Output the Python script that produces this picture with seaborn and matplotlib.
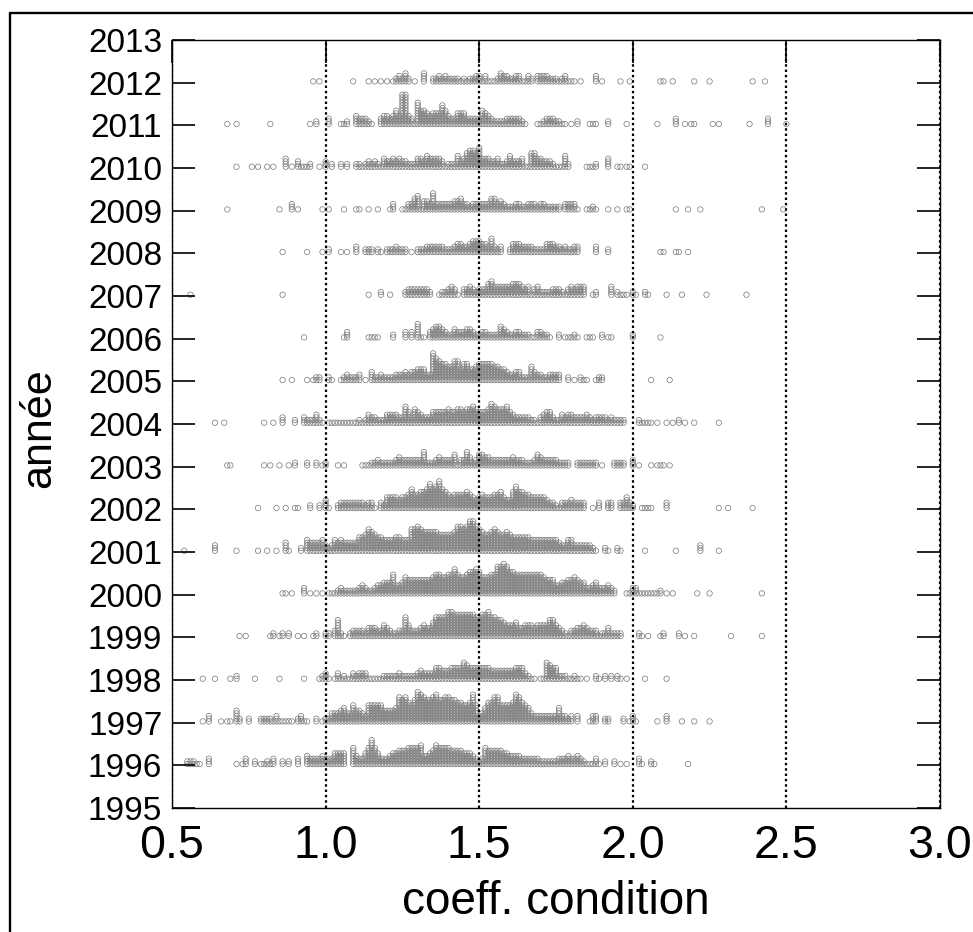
import matplotlib
matplotlib.use('Agg')
import matplotlib.pyplot as plt
from matplotlib.lines import Line2D
import pandas as pd
import seaborn as sns

years = list(range(1996, 2013))
year_ticks = list(range(1995, 2014))
coeff_ticks = [0.5, 1.0, 1.5, 2.0, 2.5, 3.0]
coeff_labels = ['0.5', '1.0', '1.5', '2.0', '2.5', '3.0']

# number of fish stacked per 0.01 bin of the coefficient, one row = 0.10
first_bin = [0.5, 0.5, 0.6, 0.7, 0.8, 0.5, 0.7, 0.6, 0.6, 0.8, 0.9, 0.5, 0.8, 0.6, 0.7, 0.6, 0.9]

counts_1996 = [0,0,0,0,0,2,2,2,1,1,
               0,0,3,0,0,0,0,0,0,0,
               0,1,0,1,3,0,0,2,0,1,
               1,2,1,3,0,0,2,0,2,0,
               0,3,0,0,4,3,3,3,3,4,
               3,3,3,5,5,5,5,0,0,7,
               4,3,3,5,7,10,7,5,3,3,
               3,4,5,5,6,6,6,7,7,7,
               7,8,4,4,5,6,8,7,7,7,
               7,6,6,6,6,5,5,5,4,3,
               2,3,7,6,6,6,6,6,5,5,
               4,4,4,4,3,3,3,3,3,3,
               2,2,2,2,2,2,3,3,3,4,
               3,3,4,3,2,1,1,1,3,1,
               0,2,0,0,2,0,1,0,1,0,
               0,0,3,1,0,0,2,1,0,0,
               0,0,0,0,0,0,0,0,1,0]
counts_1997 = [0,0,0,0,0,0,0,0,0,0,
               1,0,3,0,0,0,1,0,1,1,
               0,5,2,0,0,2,0,0,0,2,
               2,2,2,1,3,1,1,1,1,1,
               0,2,3,1,1,0,0,2,0,1,
               2,2,4,4,4,5,6,4,4,7,
               5,5,4,3,7,7,7,7,7,5,
               5,5,5,6,10,9,10,8,7,9,
               12,11,10,9,9,10,11,9,9,10,
               10,9,9,8,8,7,7,8,11,7,
               3,4,6,8,8,10,10,7,7,7,
               7,8,11,10,8,7,6,4,3,3,
               3,3,3,3,3,3,6,3,3,2,
               3,0,3,0,0,0,1,3,3,0,
               0,2,2,0,0,0,0,2,0,1,
               3,1,0,0,0,0,0,0,1,0,
               0,3,0,0,0,0,1,0,0,0,
               1,0,0,0,0,1]
counts_1998 = [1,0,0,0,1,0,0,0,0,1,
               0,2,0,0,0,0,0,1,0,0,
               0,0,0,0,0,1,0,0,0,0,
               0,0,0,1,0,0,0,0,1,2,
               3,1,0,1,3,1,2,1,1,3,
               2,3,3,3,1,1,1,1,1,2,
               2,2,2,2,3,2,2,2,2,2,
               3,4,3,3,3,3,5,5,4,4,
               4,5,5,5,5,7,6,5,5,5,
               5,5,5,5,4,4,4,4,4,4,
               4,4,5,5,5,3,2,1,1,0,
               1,1,7,6,5,5,2,2,2,1,
               1,2,1,1,0,1,0,0,2,1,
               0,2,0,2,0,2,1,0,1,0,
               0,0,0,0,1,0,0,0,0,0,
               0,1]
counts_1999 = [0,0,1,0,1,0,0,0,0,0,
               0,0,1,2,0,1,2,0,2,0,
               0,1,0,1,0,0,1,2,0,0,
               2,2,0,3,7,2,1,0,2,3,
               3,3,3,2,4,4,4,3,3,5,
               4,3,2,2,3,3,8,5,3,3,
               3,4,5,4,4,6,8,8,8,8,
               10,10,9,9,9,9,9,9,9,8,
               8,9,9,10,8,8,7,7,6,5,
               5,5,6,4,4,5,5,5,4,5,
               5,5,5,7,7,5,4,3,2,1,
               3,3,4,4,5,4,3,3,3,1,
               2,2,4,2,2,2,2,0,0,0,
               0,0,2,1,0,1,0,0,0,1,
               2,0,0,0,0,2,0,1,0,0,
               1,0,0,0,0,0,0,0,0,0,
               0,0,1,0,0,0,0,0,0,0,
               0,0,1]
counts_2000 = [0,0,0,0,0,0,1,1,0,1,
               0,0,0,3,0,1,0,1,0,1,
               0,1,1,1,2,3,2,2,2,2,
               2,3,4,3,2,2,3,4,4,5,
               5,5,8,4,4,5,7,6,6,6,
               6,6,6,6,6,7,8,8,7,7,
               8,8,10,8,7,7,8,9,9,10,
               9,7,7,7,8,8,11,11,12,11,
               9,9,8,8,8,8,8,8,8,8,
               8,7,6,6,6,4,4,5,5,6,
               6,7,6,5,5,3,3,4,5,3,
               3,3,4,3,2,0,0,0,1,1,
               3,3,1,1,1,1,1,1,1,2,
               0,1,0,1,0,0,0,0,0,0,
               0,1,0,0,0,1,0,0,0,0,
               0,0,0,0,0,0,0,0,0,0,
               0,0,1]
counts_2001 = [0,0,0,0,1,0,0,0,0,0,
               0,0,0,0,3,0,0,0,0,0,
               0,1,0,0,0,0,0,0,1,0,
               0,1,0,0,1,0,0,4,1,0,
               0,0,2,0,5,4,4,4,4,5,
               3,2,3,5,4,5,4,4,4,4,
               4,6,6,7,9,8,7,6,6,5,
               5,5,5,6,6,5,5,5,9,9,
               10,9,8,8,8,8,8,7,7,7,
               7,7,8,10,10,9,10,12,12,10,
               9,8,7,7,8,9,8,7,7,8,
               7,6,6,6,6,6,6,5,5,5,
               5,5,5,5,5,5,4,3,3,5,
               5,3,3,3,3,3,3,2,1,0,
               0,2,1,0,0,2,1,0,0,0,
               0,0,0,0,1,0,0,0,0,0,
               0,0,0,0,1,0,0,0,0,0,
               0,0,3,0,0,0,0,0,1,0]
counts_2002 = [0,0,0,0,0,0,0,0,1,0,
               0,0,0,0,1,0,0,1,0,0,
               1,1,0,0,0,2,0,0,2,0,
               4,1,0,0,2,3,3,3,3,3,
               3,3,3,2,3,3,1,0,3,2,
               5,5,5,5,4,5,5,6,8,6,
               6,7,7,8,10,8,9,11,8,7,
               6,5,6,6,6,6,7,6,5,4,
               5,6,5,5,5,6,6,7,5,4,
               4,7,9,7,7,6,6,5,5,5,
               5,5,4,3,3,2,1,3,3,3,
               4,3,3,3,3,0,0,1,0,3,
               0,0,3,3,0,0,3,3,5,3,
               2,0,0,1,1,1,1,0,0,0,
               0,3,0,0,0,0,0,0,0,0,
               0,0,0,0,0,0,0,0,1,0,
               0,1,0,0,0,0,0,0,0,1]
counts_2003 = [0,0,0,0,0,0,0,0,1,1,
               0,0,0,0,0,0,0,0,0,0,
               1,0,1,0,0,1,0,0,1,0,
               2,0,0,0,2,0,0,2,0,1,
               2,0,0,0,1,0,1,0,0,0,
               0,0,1,1,1,2,2,3,2,2,
               2,2,2,3,4,3,3,3,3,3,
               3,3,6,2,2,2,3,4,3,3,
               3,3,5,1,3,3,6,4,2,3,
               5,5,4,4,3,3,3,3,3,3,
               3,4,3,3,3,2,2,2,3,5,
               4,3,3,3,3,3,2,2,2,2,
               0,0,2,2,2,2,2,2,2,0,
               1,0,0,0,2,2,2,2,0,0,
               3,0,1,0,0,0,1,0,1,1,
               1,0,1]
counts_2004 = [0,0,0,0,1,0,0,1,0,0,
               0,0,0,0,0,0,0,0,0,0,
               1,0,0,1,0,0,3,0,0,0,
               2,0,0,3,2,2,2,4,2,1,
               0,1,1,1,1,1,1,1,1,1,
               1,2,1,2,4,3,3,2,2,2,
               4,4,4,4,3,3,7,5,3,6,
               5,4,3,3,3,5,5,5,5,5,
               6,5,5,6,6,5,6,6,7,6,
               5,5,5,6,8,7,6,6,6,7,
               5,4,3,3,3,3,3,2,2,1,
               3,4,5,5,3,2,2,4,3,4,
               4,3,3,3,3,4,3,2,3,3,
               3,3,2,3,2,2,2,2,0,0,
               0,0,2,1,1,1,1,0,1,0,
               0,1,0,1,0,2,0,1,0,0,
               1,0,0,0,0,0,0,0,1,0]
counts_2005 = [0,0,0,0,0,0,1,0,0,1,
               0,0,0,0,1,0,1,2,2,0,
               0,2,1,0,0,1,2,3,2,2,
               2,3,0,1,0,4,2,2,3,2,
               2,2,2,3,3,3,4,3,4,4,
               5,5,5,3,3,11,9,8,7,7,
               6,6,8,8,5,7,7,5,5,6,
               7,7,7,7,7,6,6,5,5,4,
               3,3,4,4,2,2,2,6,4,3,
               3,2,2,3,3,3,3,0,0,2,
               0,1,0,2,1,1,0,0,1,2,
               2,0,0,0,0,0,0,0,0,0,
               0,0,0,0,0,0,1,0,0,0,
               0,0,1]
counts_2006 = [0,0,0,1,0,0,0,0,0,0,
               0,0,0,0,0,0,1,3,0,0,
               0,0,0,0,1,1,1,1,0,0,
               0,0,2,0,0,0,3,0,3,0,
               6,1,1,0,3,4,5,5,4,3,
               2,2,4,3,3,3,4,4,3,2,
               2,3,3,2,2,2,2,5,4,3,
               2,2,3,3,2,2,2,1,1,3,
               3,2,2,1,0,0,2,0,1,1,
               1,2,1,0,0,1,1,1,0,0,
               2,0,1,1,0,0,0,0,0,0,
               2,0,0,0,0,0,0,0,0,1]
counts_2007 = [0,0,0,0,0,0,1,0,0,0,
               0,0,0,0,0,0,0,0,0,0,
               0,0,0,0,0,0,0,0,0,0,
               0,0,0,0,0,0,1,0,0,0,
               0,0,0,0,0,0,0,0,0,0,
               0,0,0,0,0,0,0,0,0,0,
               0,0,0,0,1,0,0,0,2,0,
               0,1,0,0,0,0,2,3,3,3,
               3,3,3,3,2,0,0,1,2,2,
               3,4,3,1,0,3,3,4,3,2,
               3,3,3,5,6,4,4,4,4,4,
               4,5,5,5,4,3,4,1,3,4,
               2,2,2,2,3,3,3,2,1,3,
               4,3,4,4,4,0,0,1,2,0,
               0,0,0,4,0,2,1,1,1,0,
               2,1,0,0,2,1,0,0,0,0,
               0,1,0,0,0,0,1,0,0,0,
               0,0,0,0,1,0,0,0,0,0,
               0,0,0,0,0,0,0,1]
counts_2008 = [0,0,0,0,0,0,1,0,0,0,
               0,0,0,0,1,0,0,0,0,1,
               0,2,0,0,0,1,0,1,0,0,
               3,0,0,2,2,2,0,2,1,0,
               2,2,2,3,2,2,2,0,1,0,
               2,2,2,3,3,3,3,3,3,2,
               2,2,3,4,4,3,3,4,5,5,
               5,4,4,3,6,3,2,3,0,0,
               2,4,4,4,3,3,3,3,2,2,
               2,2,4,4,4,3,3,2,3,2,
               2,3,3,0,0,0,0,0,3,0,
               0,0,2,0,0,0,0,0,0,0,
               0,0,0,0,0,0,0,0,0,1,
               1,0,0,0,1,1,0,0,1,0]
counts_2009 = [0,0,0,0,0,0,0,0,1,0,
               0,0,0,0,0,0,0,0,0,0,
               0,0,0,0,0,1,0,0,0,3,
               0,1,0,0,0,0,0,0,0,1,
               0,1,0,0,0,0,1,0,0,0,
               1,1,0,0,1,0,0,1,0,0,
               0,1,3,0,0,1,1,3,3,5,
               6,1,4,4,3,7,3,3,3,3,
               3,3,4,4,5,3,3,2,3,3,
               3,3,3,3,5,5,3,4,3,2,
               2,2,3,3,2,2,3,3,3,2,
               3,3,2,2,2,2,2,0,3,3,
               3,3,1,0,0,1,1,2,1,0,
               0,0,1,0,0,1,0,0,1,1,
               0,0,0,0,0,0,0,0,0,0,
               0,0,0,0,1,0,0,0,1,0,
               0,0,1,0,0,0,0,0,0,0,
               0,0,0,0,0,0,0,0,0,0,
               0,0,1,0,0,0,0,0,0,1]
counts_2010 = [0,1,0,0,0,0,1,0,1,0,
               0,1,0,1,0,0,0,4,0,1,
               0,3,1,1,1,2,0,0,1,0,
               3,0,2,0,0,2,0,2,0,0,
               2,2,1,2,3,2,3,2,1,4,
               3,3,4,3,4,3,3,2,2,2,
               4,4,3,5,4,4,4,4,3,1,
               2,2,2,5,3,4,6,7,7,6,
               8,4,4,4,3,3,4,2,2,3,
               5,3,3,3,4,1,1,6,6,4,
               4,3,3,3,2,1,1,1,5,2,
               0,0,0,0,0,1,1,1,2,0,
               0,0,4,0,0,1,1,0,1,1,
               0,0,0,0,1]
counts_2011 = [0,0,0,0,0,0,0,0,1,0,
               0,1,0,0,0,0,0,0,0,0,
               0,0,1,0,0,0,0,0,0,0,
               0,0,0,0,0,1,0,2,0,0,
               0,3,0,0,0,1,1,2,0,0,
               4,3,3,3,2,1,0,0,3,4,
               4,3,4,6,4,12,12,4,3,1,
               9,6,6,5,4,5,5,5,8,6,
               4,3,3,5,5,5,3,3,3,3,
               3,6,5,4,3,2,2,2,2,3,
               3,3,3,3,2,1,0,0,0,1,
               1,2,3,3,3,2,2,1,1,0,
               1,0,2,0,0,0,1,1,1,0,
               0,0,2,0,0,0,0,0,1,0,
               0,0,0,0,0,0,0,0,1,0,
               0,0,0,0,3,0,0,1,0,1,
               1,0,0,0,0,0,1,0,1,0,
               0,0,0,0,0,0,0,0,1,0,
               0,0,0,0,3,0,0,0,0,0,
               1]
counts_2012 = [0,0,0,0,0,0,1,0,1,0,
               0,0,0,0,0,0,0,0,0,1,
               0,0,0,0,1,0,1,0,1,0,
               1,0,1,2,3,2,4,2,0,1,
               0,0,4,0,0,2,2,3,2,3,
               2,2,2,2,1,2,1,2,2,3,
               3,1,3,1,1,1,2,4,3,3,
               2,2,3,3,1,1,3,2,0,3,
               3,3,3,2,2,2,1,2,3,1,
               1,1,0,1,0,0,0,0,3,0,
               1,0,0,0,0,0,1,0,0,1,
               0,0,0,0,0,0,0,0,0,1,
               1,0,0,1,0,0,0,0,0,0,
               1,0,0,0,0,1,0,0,0,0,
               0,0,0,0,0,0,0,0,0,1,
               0,0,0,1]

all_counts = [counts_1996, counts_1997, counts_1998, counts_1999, counts_2000,
              counts_2001, counts_2002, counts_2003, counts_2004, counts_2005,
              counts_2006, counts_2007, counts_2008, counts_2009, counts_2010,
              counts_2011, counts_2012]

# stacked dot plot: each fish gets its own row, piled above the year line
base_offset = 0.03
stack_step = 0.0625
rows = []
for year, start, counts in zip(years, first_bin, all_counts):
    for i, n in enumerate(counts):
        for k in range(n):
            rows.append({'coeff': start + i * 0.01, 'annee': year + base_offset + k * stack_step})
df = pd.DataFrame(rows)

sns.set_style('white')
plt.rcParams['font.family'] = ['Liberation Sans', 'DejaVu Sans']
plt.rcParams['text.color'] = 'black'
plt.rcParams['axes.labelcolor'] = 'black'

fig = plt.figure(figsize=(9.73, 9.32), dpi=100)
ax = fig.add_axes([172 / 973, 1 - 808 / 932, 768 / 973, 768 / 932])

sns.scatterplot(data=df, x='coeff', y='annee', marker='o', s=15, ax=ax, zorder=2,
                color='#808080', linewidth=0.55, legend=False, clip_on=False)
ax.collections[0].set_facecolor('none')
ax.collections[0].set_edgecolor('#808080')

ax.set_xlim(0.5, 3.0)
ax.set_ylim(1995, 2013)
ax.set_xticks(coeff_ticks)
ax.set_xticklabels(coeff_labels)
ax.set_yticks(year_ticks)

ax.grid(axis='x', color='black', linewidth=1.6, linestyle=(0, (1.1, 1.3)), zorder=3)
ax.grid(axis='y', visible=False)
ax.set_axisbelow(False)

ax.tick_params(axis='y', left=True, right=True, direction='in', length=16.5, width=1.2,
               labelsize=24, pad=7, colors='black')
ax.tick_params(axis='x', top=True, bottom=False, direction='in', length=16.5, width=1.2,
               labelsize=33.5, pad=11.5, colors='black')
for side in ax.spines:
    ax.spines[side].set_linewidth(1.0)
    ax.spines[side].set_color('black')

ax.set_xlabel('coeff. condition', fontsize=33)
ax.set_ylabel('année', fontsize=31)
ax.xaxis.set_label_coords((556 - 172) / 768, -(880 - 808) / 768)
ax.yaxis.set_label_coords((59 - 172) / 768, (808 - 428) / 768)

# outer frame is only visible on the top and left of the picture
fig.add_artist(Line2D([9.5 / 973, 1], [1 - 12.5 / 932, 1 - 12.5 / 932], color='black', linewidth=1.7))
fig.add_artist(Line2D([9.5 / 973, 9.5 / 973], [0, 1 - 12.5 / 932], color='black', linewidth=1.7))

fig.savefig('out.png', dpi=100)
